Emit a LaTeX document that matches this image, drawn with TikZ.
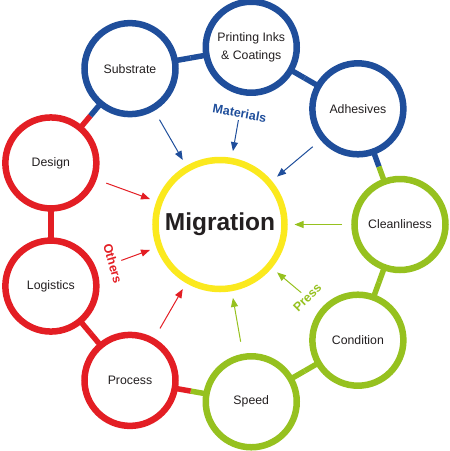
\documentclass[tikz,border=0pt]{standalone}
\usepackage{fontspec}
\setmainfont{Liberation Sans}
\usetikzlibrary{arrows.meta,backgrounds,calc}
\definecolor{cblue}{HTML}{1F4E9B}
\definecolor{cred}{HTML}{E31E24}
\definecolor{cgreen}{HTML}{96C11F}
\definecolor{cyel}{HTML}{FBE91E}
\definecolor{ctext}{HTML}{231F20}
\tikzset{
  ring/.style={circle, draw, fill=white, line width=6.5pt, minimum size=91pt, inner sep=0pt,
    text=ctext, align=center, font=\fontsize{12.3}{18.5}\selectfont},
  hub/.style={circle, draw=cyel, fill=white, line width=6.5pt, minimum size=129pt, inner sep=0pt,
    text=ctext, font=\fontsize{24.5}{28}\selectfont\bfseries},
  conn/.style={line width=5.5pt, line cap=butt},
  arr/.style={line width=1pt, -{Triangle[length=9pt,width=7pt]}, shorten >=6.75pt},
  lab/.style={inner sep=0pt, font=\fontsize{12.5}{14}\selectfont\bfseries}
}
\newcommand\linkhalf[4]{%
  \draw[conn,#3] (#1.center) -- ($(#1.center)!0.5!(#2.center)$);
  \draw[conn,#4] ($(#1.center)!0.5!(#2.center)$) -- (#2.center);}
\begin{document}
\begin{tikzpicture}[x=1pt,y=-1pt]
\useasboundingbox (0,0) rectangle (450,451);
\node[hub] (mig) at (220,224.5) {Migration};
\path (mig.center) ++(120:180pt) node[ring, draw=cblue] (sub) {Substrate};
\path (mig.center) ++(80:180pt) node[ring, draw=cblue] (pri) {Printing Inks\\\& Coatings};
\path (mig.center) ++(40:180pt) node[ring, draw=cblue] (adh) {Adhesives};
\path (mig.center) ++(0:180pt) node[ring, draw=cgreen] (cle) {Cleanliness};
\path (mig.center) ++(320:180pt) node[ring, draw=cgreen] (con) {Condition};
\path (mig.center) ++(280:180pt) node[ring, draw=cgreen] (spe) {Speed};
\path (mig.center) ++(240:180pt) node[ring, draw=cred] (pro) {Process};
\path (mig.center) ++(200:180pt) node[ring, draw=cred] (log) {Logistics};
\path (mig.center) ++(160:180pt) node[ring, draw=cred] (des) {Design};
\begin{scope}[on background layer]
  \linkhalf{sub}{pri}{cblue}{cblue}
  \linkhalf{pri}{adh}{cblue}{cblue}
  \linkhalf{adh}{cle}{cblue}{cgreen}
  \linkhalf{cle}{con}{cgreen}{cgreen}
  \linkhalf{con}{spe}{cgreen}{cgreen}
  \linkhalf{spe}{pro}{cgreen}{cred}
  \linkhalf{pro}{log}{cred}{cred}
  \linkhalf{log}{des}{cred}{cred}
  \linkhalf{des}{sub}{cred}{cblue}
\end{scope}
\foreach \a/\r/\c in {120/121/cblue, 80/106/cblue, 40/121/cblue, 0/122/cgreen, 320/106/cgreen, 280/119/cgreen, 240/120/cred, 200/105/cred, 160/121/cred} {
  \path (mig.center) ++(\a:\r pt) coordinate (t\a);
  \draw[arr,\c] (t\a) -- (mig.\a);
}
\node[lab, text=cblue, rotate=-10] (mat) at ($(mig.center)+(80:113pt)$) {Materials};
\node[lab, text=cgreen, rotate=45] (prs) at ($(mig.center)+(320:114pt)$) {Press};
\node[lab, text=cred, rotate=-74] (oth) at ($(mig.center)+(200:114pt)$) {Others};
\end{tikzpicture}
\end{document}
